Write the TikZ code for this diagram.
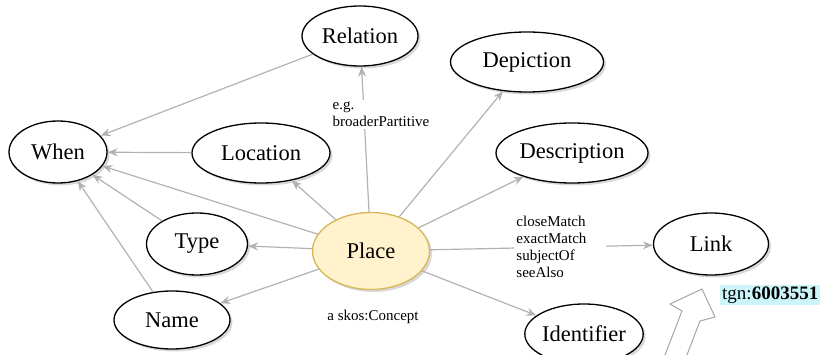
\documentclass[tikz,border=0pt]{standalone}
\usepackage{fontspec}
\setmainfont{Liberation Serif}
\usetikzlibrary{shapes.geometric,shadows,arrows.meta}

\definecolor{placefill}{RGB}{255,242,204}
\definecolor{placeline}{RGB}{214,182,86}
\definecolor{tgnfill}{RGB}{204,245,250}

\begin{document}
\begin{tikzpicture}[x=1pt,y=-1pt,
  entity/.style={ellipse,draw,line width=1.3pt,fill=white,inner sep=0pt,
    drop shadow={shadow xshift=2.5pt,shadow yshift=-2.5pt,fill=black!30},
    font=\fontsize{22.5}{27}\selectfont},
  rel/.style={draw=black!30,line width=1.2pt,-{Stealth[length=10pt,width=8pt]}},
  note/.style={font=\fontsize{15}{17}\selectfont,align=left,fill=white,inner sep=2pt}]
  \useasboundingbox (0,0) rectangle (825,355);

  \node [entity,minimum width=116pt,minimum height=60pt] (relation) at (360,36) {Relation};
  \node [entity,minimum width=98pt,minimum height=62pt] (when) at (58,152) {When};
  \node [entity,minimum width=138pt,minimum height=60pt] (location) at (261,153) {Location};
  \node [entity,minimum width=153pt,minimum height=60pt] (depiction) at (527,62) {Depiction};
  \node [entity,minimum width=152pt,minimum height=60pt] (description) at (572,153) {Description};
  \node [entity,minimum width=101pt,minimum height=62pt] (type) at (197,244) {Type};
  \node [entity,minimum width=116pt,minimum height=58pt] (name) at (172,320) {Name};
  \node [entity,minimum width=117pt,minimum height=77pt,
	fill=placefill,draw=placeline] (place) at (371,251) {Place};
  \node [entity,minimum width=115pt,minimum height=62pt] (link) at (711,244) {Link};
  \node [entity,minimum width=116pt,minimum height=60pt] (identifier) at (584,334) {Identifier};

  \draw [rel] (relation) -- (when);
  \draw [rel] (location) -- (when);
  \draw [rel] (place) -- (when);
  \draw [rel] (type) -- (when);
  \draw [rel] (name) -- (when);

  \draw [rel] (place) -- node [note,pos=0.67,xshift=17pt] {e.g.\\broaderPartitive} (relation);
  \draw [rel] (place) -- (location);
  \draw [rel] (place) -- (depiction);
  \draw [rel] (place) -- (description);
  \draw [rel] (place) -- node [note,pos=0.585,text width=88pt] {closeMatch\\exactMatch\\subjectOf\\seeAlso} (link);
  \draw [rel] (place) -- (identifier);
  \draw [rel] (place) -- (type);
  \draw [rel] (place) -- (name);

  \node [font=\fontsize{15}{17}\selectfont] (concept) at (373,317) {a skos:Concept};
  \node [fill=tgnfill,inner sep=2pt,font=\fontsize{19}{22}\selectfont,anchor=west] (tgn) at (720,295) {tgn:\textbf{6003551}};

  % hollow arrow pointing at the link
  \draw [black!35,line width=1pt,fill=white]
    (663,360) -- (682,311) -- (670,304) -- (702,289) -- (715,317) -- (700,321) -- (685,360);
\end{tikzpicture}
\end{document}
